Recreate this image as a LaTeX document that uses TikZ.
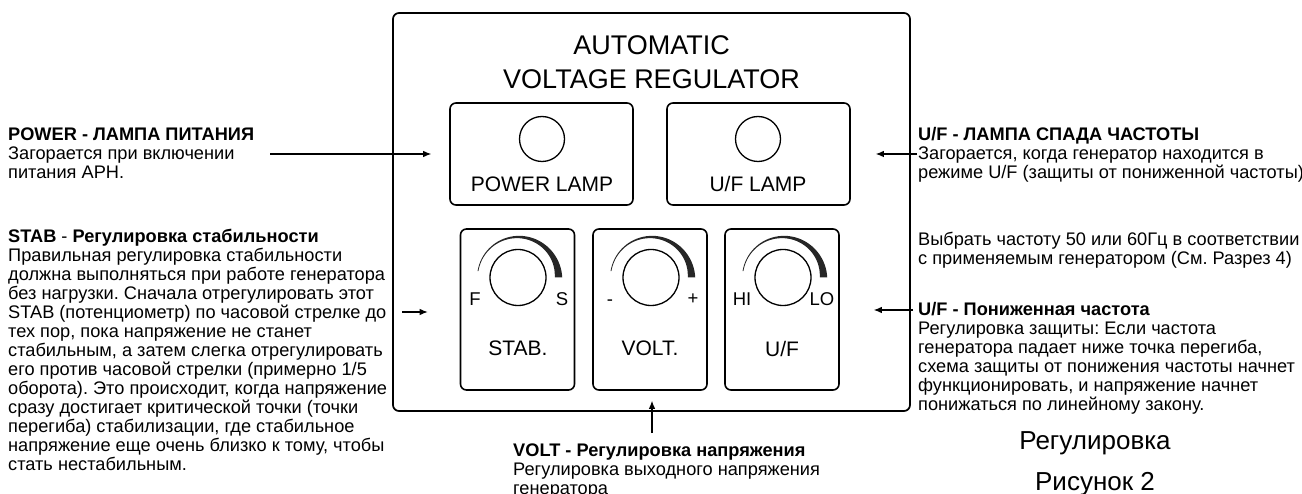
\documentclass[tikz,border=0pt]{standalone}
\usepackage{fontspec}
\setmainfont{Liberation Sans}
\usetikzlibrary{arrows.meta}
\frenchspacing

\begin{document}
\begin{tikzpicture}[x=1pt,y=-1pt,
  frame/.style={draw,line width=1.7pt,rounded corners=6pt,minimum width=517pt,minimum height=398pt,inner sep=0pt},
  lampbox/.style={draw,line width=1.6pt,rounded corners=6pt,minimum width=183pt,minimum height=102pt,inner sep=0pt},
  knobbox/.style={draw,line width=1.6pt,rounded corners=6pt,minimum width=114pt,minimum height=161pt,inner sep=0pt},
  lamp/.style={draw,circle,line width=1.3pt,minimum size=45pt,inner sep=0pt},
  knob/.style={draw,circle,line width=1.3pt,minimum size=56pt,inner sep=0pt},
  lbl/.style={font=\fontsize{21}{24}\selectfont,inner sep=0pt},
  knoblbl/.style={font=\fontsize{18.5}{20}\selectfont,inner sep=0pt},
  txt/.style={anchor=north west,inner sep=0pt,align=left,font=\fontsize{18.2}{19}\selectfont},
  arr/.style={-{Latex[length=8pt,width=6.5pt]},line width=1.1pt},
  declare function={kw(\a)=0.8+6.7*((171-\a)/171)^2;}]
\useasboundingbox (0,0) rectangle (1302,494);
% Regulator panel
\node[frame] (panel) at (651.5,212) {};
\node[align=center,font=\fontsize{27}{33.5}\selectfont,inner sep=0pt] (title) at (651.5,62) {AUTOMATIC\\VOLTAGE REGULATOR};
% Lamps
\node[lampbox] (pwrbox) at (541.5,154) {};
\node[lampbox] (uflbox) at (758.5,154) {};
\node[lamp] (pwrlamp) at (542,139) {};
\node[lamp] (ufllamp) at (758,139) {};
\node[lbl] (pwrlbl) at (542,184) {POWER LAMP};
\node[lbl] (ufllbl) at (758,184) {U/F LAMP};
% Knobs
\node[knobbox] (stabbox) at (517.5,309.5) {};
\node[knobbox] (voltbox) at (650,309.5) {};
\node[knobbox] (ufbox) at (782,309.5) {};
\node[knob] (stabknob) at (518,277.5) {};
\node[knob] (voltknob) at (651,277.5) {};
\node[knob] (ufknob) at (783,277.5) {};
\foreach \k in {stabknob,voltknob,ufknob} {
  \begin{scope}[shift={(\k.center)}]
    \fill[black!85] plot[domain=171:0,samples=40] ({(40.5+kw(\x)/2)*cos(\x)},{-(40.5+kw(\x)/2)*sin(\x)})
      -- plot[domain=0:171,samples=40] ({(40.5-kw(\x)/2)*cos(\x)},{-(40.5-kw(\x)/2)*sin(\x)}) -- cycle;
  \end{scope}
}
\node[knoblbl] (stabf) at (475,299) {F};
\node[knoblbl] (stabs) at (562,299) {S};
\node[knoblbl] (voltm) at (610,303) {-};
\node[knoblbl] (voltp) at (693,299) {+};
\node[knoblbl] (ufhi) at (742,299) {HI};
\node[knoblbl] (uflo) at (822,299) {LO};
\node[lbl] (stablbl) at (518,348) {STAB.};
\node[lbl] (voltlbl) at (650,348) {VOLT.};
\node[lbl] (uflbl) at (782,349) {U/F};
% Notes
\node[txt] (pwrtxt) at (8,127.4) {\textbf{POWER - ЛАМПА ПИТАНИЯ}\\Загорается при включении\\питания АРН.};
\node[txt] (stabtxt) at (8,229.4) {\textbf{STAB} - \textbf{Регулировка стабильности}\\Правильная регулировка стабильности\\должна выполняться при работе генератора\\без нагрузки. Сначала отрегулировать этот\\STAB (потенциометр) по часовой стрелке до\\тех пор, пока напряжение не станет\\стабильным, а затем слегка отрегулировать\\его против часовой стрелки (примерно 1/5\\оборота). Это происходит, когда напряжение\\сразу достигает критической точки (точки\\перегиба) стабилизации, где стабильное\\напряжение еще очень близко к тому, чтобы\\стать нестабильным.};
\node[txt] (ufltxt) at (918,127.4) {\textbf{U/F - ЛАМПА СПАДА ЧАСТОТЫ}\\Загорается, когда генератор находится в\\режиме U/F (защиты от пониженной частоты)};
\node[txt] (freqtxt) at (918,232.4) {Выбрать частоту 50 или 60Гц в соответствии\\с применяемым генератором (См. Разрез 4)};
\node[txt] (uftxt) at (918,302.4) {\textbf{U/F - Пониженная частота}\\Регулировка защиты: Если частота\\генератора падает ниже точка перегиба,\\схема защиты от понижения частоты начнет\\функционировать, и напряжение начнет\\понижаться по линейному закону.};
\node[txt] (volttxt) at (513,443.4) {\textbf{VOLT - Регулировка напряжения}\\Регулировка выходного напряжения\\генератора};
\node[anchor=north,align=center,inner sep=0pt,font=\fontsize{26}{41}\selectfont] (caption) at (1095,431.5) {Регулировка\\Рисунок 2};
% Arrows
\coordinate (pwrtail) at (270,154);
\coordinate (ufltail) at (917,154);
\coordinate (stabtail) at (402,312);
\coordinate (uftail) at (913,310);
\coordinate (volttail) at (652,433);
\draw[arr] (pwrtail) -- ([xshift=-18pt]pwrbox.west);
\draw[arr] (ufltail) -- ([xshift=25pt]uflbox.east);
\draw[arr] (stabtail) -- ([xshift=-32pt]stabbox.west |- stabtail);
\draw[arr] (uftail) -- ([xshift=34pt]ufbox.east |- uftail);
\draw[arr] (volttail) -- ([yshift=-10pt]voltbox.south -| volttail);
\end{tikzpicture}
\end{document}
